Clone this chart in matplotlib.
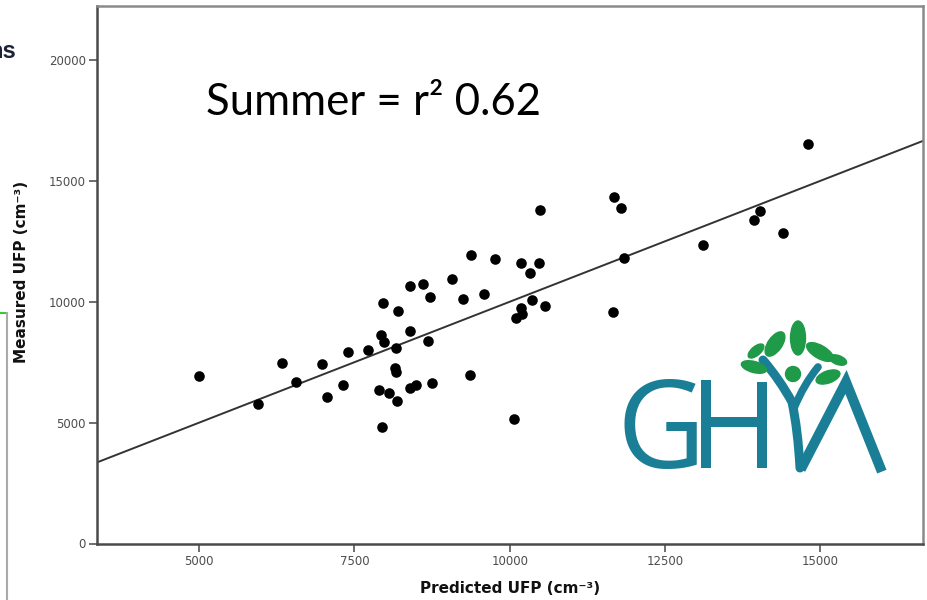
import numpy as np
import matplotlib.pyplot as plt
from matplotlib.patches import Ellipse, Circle, PathPatch
from matplotlib.path import Path

# predicted vs measured UFP, summer campaign
predicted_ufp = [4990, 5940, 6330, 6560, 6970, 7060, 7320, 7400, 7720, 7925,
                 7970, 8170, 8390, 8690, 8155, 8170, 7890, 8050, 8190, 8390,
                 8495, 8745, 9365, 7940, 10075, 7960, 8195, 8390, 8600, 8720,
                 9075, 9250, 9375, 9590, 9765, 10190, 10475, 10320, 10355, 10575,
                 10185, 10205, 10105, 10495, 11685, 11800, 11835, 11660, 13105, 13930,
                 14030, 14400, 14810]
measured_ufp = [6940, 5770, 7480, 6690, 7425, 6040, 6575, 7920, 7985, 8645,
                8355, 8075, 8770, 8395, 7280, 7080, 6340, 6225, 5885, 6425,
                6550, 6650, 6980, 4805, 5150, 9935, 9615, 10640, 10720, 10195,
                10940, 10100, 11920, 10310, 11770, 11590, 11590, 11200, 10070, 9810,
                9730, 9505, 9315, 13785, 14320, 13890, 11795, 9575, 12345, 13380,
                13765, 12855, 16525]

fit_intercept = 0.0
fit_slope = 1.0
r_squared = 0.62

x_ticks = [5000, 7500, 10000, 12500, 15000]
y_ticks = [0, 5000, 10000, 15000, 20000]

teal = '#1a7f96'
leaf_green = '#1f9a48'

fig = plt.figure(figsize=(9.28, 6.0), dpi=100)
ax = fig.add_axes([97 / 928, 56.5 / 600, 826 / 928, 537.5 / 600])

ax.scatter(predicted_ufp, measured_ufp, s=58, color='black', zorder=3, linewidths=0)
ax.axline((0, fit_intercept), slope=fit_slope, color='#333333', lw=1.4, zorder=2)

ax.set_xlim(3355, 16655)
ax.set_ylim(0, 22235)
ax.set_xticks(x_ticks)
ax.set_yticks(y_ticks)

for side in ['left', 'bottom']:
    ax.spines[side].set_color('#4a4a4a')
    ax.spines[side].set_linewidth(1.8)
for side in ['top', 'right']:
    ax.spines[side].set_color('#8a8a8a')
    ax.spines[side].set_linewidth(1.8)

ax.tick_params(direction='out', length=6, width=1.2, color='#555555',
               labelsize=8.5, labelcolor='#4d4d4d', pad=2)
for lab in ax.get_xticklabels() + ax.get_yticklabels():
    lab.set_family('DejaVu Sans')

ax.set_xlabel('Predicted UFP (cm⁻³)', fontsize=11, fontweight='bold',
              family='DejaVu Sans', color='#111111')
ax.set_ylabel('Measured UFP (cm⁻³)', fontsize=11, fontweight='bold',
              family='DejaVu Sans', color='#111111')
ax.xaxis.set_label_coords(0.5, -0.083)
ax.xaxis.label.set_va('center')
ax.yaxis.set_label_coords(-0.092, 0.505)
ax.yaxis.label.set_va('center')

ax.text(0.335, 0.82, f'Summer = r\u00b2 {r_squared:.2f}', transform=ax.transAxes,
        fontsize=31.5, family=['Lato', 'DejaVu Sans'], color='black',
        ha='center', va='center')

# GHYA logo, drawn in a small pixel-like box
lg = fig.add_axes([600 / 928, 120 / 600, 290 / 928, 160 / 600])
lg.set_xlim(0, 290)
lg.set_ylim(160, 0)
lg.axis('off')
lg.text(17, 148, 'G', fontsize=88, family=['Open Sans', 'DejaVu Sans'],
        color=teal, va='baseline', ha='left')
stroke = 7.2
lg.plot([106.5, 106.5], [60, 148], color=teal, lw=stroke, solid_capstyle='butt')
lg.plot([106.5, 162], [102, 102], color=teal, lw=stroke, solid_capstyle='butt')
lg.plot([162, 162], [62, 148], color=teal, lw=stroke, solid_capstyle='butt')
# person figure
body = Path([(163, 40), (180, 60), (192, 82), (198, 110), (200, 148)],
            [Path.MOVETO, Path.CURVE3, Path.CURVE3, Path.CURVE3, Path.CURVE3])
lg.add_patch(PathPatch(body, fill=False, ec=teal, lw=6.5, capstyle='round'))
arm = Path([(218, 47), (204, 64), (194, 88)], [Path.MOVETO, Path.CURVE3, Path.CURVE3])
lg.add_patch(PathPatch(arm, fill=False, ec=teal, lw=5.5, capstyle='round'))
lg.plot([203, 246, 280], [145, 62, 147], color=teal, lw=stroke, solid_joinstyle='miter')
lg.add_patch(Circle((193, 54), 7.5, color=leaf_green))
leaves = [((156, 31), 19, 9, -40), ((175, 24), 28, 14, -55), ((198, 18), 34, 15, 90),
          ((220, 32), 30, 13, 30), ((238, 40), 18, 9, 20), ((154, 47), 26, 11, 15),
          ((228, 57), 25, 12, -20)]
for (cx, cy), w, h, ang in leaves:
    lg.add_patch(Ellipse((cx, cy), w, h, angle=ang, color=leaf_green))

# slide remnants at the left edge
fig.text(16 / 928, 1 - 52 / 600, 'ns', fontsize=17, fontweight='bold',
         family=['Liberation Sans', 'DejaVu Sans'], color='#1c2238', ha='right', va='center')
fig.add_artist(plt.Line2D([0, 7 / 928], [1 - 313 / 600, 1 - 313 / 600],
                          color='#33cc33', lw=1.5, transform=fig.transFigure))
fig.add_artist(plt.Line2D([7 / 928, 7 / 928], [1 - 313 / 600, 0],
                          color='#aaaaaa', lw=1.5, transform=fig.transFigure))

fig.savefig('out.png', dpi=100)
